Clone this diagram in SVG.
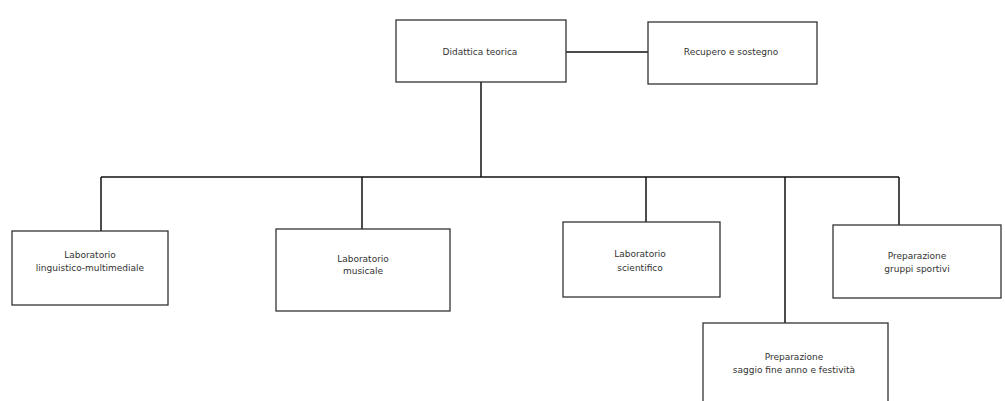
<svg xmlns="http://www.w3.org/2000/svg" width="1005" height="401" viewBox="0 0 1005 401">
<style>
.box{fill:#fff;stroke:#333;stroke-width:1.3}
.t{font-family:"DejaVu Sans",sans-serif;font-size:9px;fill:#333;text-anchor:middle}
.c{fill:none;stroke:#111;stroke-width:1.5}
</style>
<rect width="1005" height="401" fill="#fff"/>
<g id="connectors">
<path class="c" d="M566 52H648"/>
<path class="c" d="M481 82V177"/>
<path class="c" d="M101 177H899"/>
<path class="c" d="M101 177V231"/>
<path class="c" d="M362 177V229"/>
<path class="c" d="M646 177V222"/>
<path class="c" d="M785 177V323"/>
<path class="c" d="M899 177V225"/>
</g>
<g id="n-didattica"><rect class="box" x="396" y="20" width="170" height="62"/><text class="t" x="480" y="55">Didattica teorica</text></g>
<g id="n-recupero"><rect class="box" x="648" y="22" width="169" height="62"/><text class="t" x="731" y="55">Recupero e sostegno</text></g>
<g id="n-linguistico"><rect class="box" x="12" y="231" width="156" height="74"/><text class="t" x="90" y="258">Laboratorio</text><text class="t" x="90" y="271">linguistico-multimediale</text></g>
<g id="n-musicale"><rect class="box" x="276" y="229" width="174" height="82"/><text class="t" x="363" y="262">Laboratorio</text><text class="t" x="363" y="274">musicale</text></g>
<g id="n-scientifico"><rect class="box" x="563" y="222" width="157" height="75"/><text class="t" x="640" y="257">Laboratorio</text><text class="t" x="640" y="271">scientifico</text></g>
<g id="n-sportivi"><rect class="box" x="833" y="225" width="168" height="73"/><text class="t" x="917" y="259">Preparazione</text><text class="t" x="917" y="272">gruppi sportivi</text></g>
<g id="n-saggio"><rect class="box" x="703" y="323" width="185" height="90"/><text class="t" x="794" y="360">Preparazione</text><text class="t" x="794" y="373">saggio fine anno e festività</text></g>
</svg>
